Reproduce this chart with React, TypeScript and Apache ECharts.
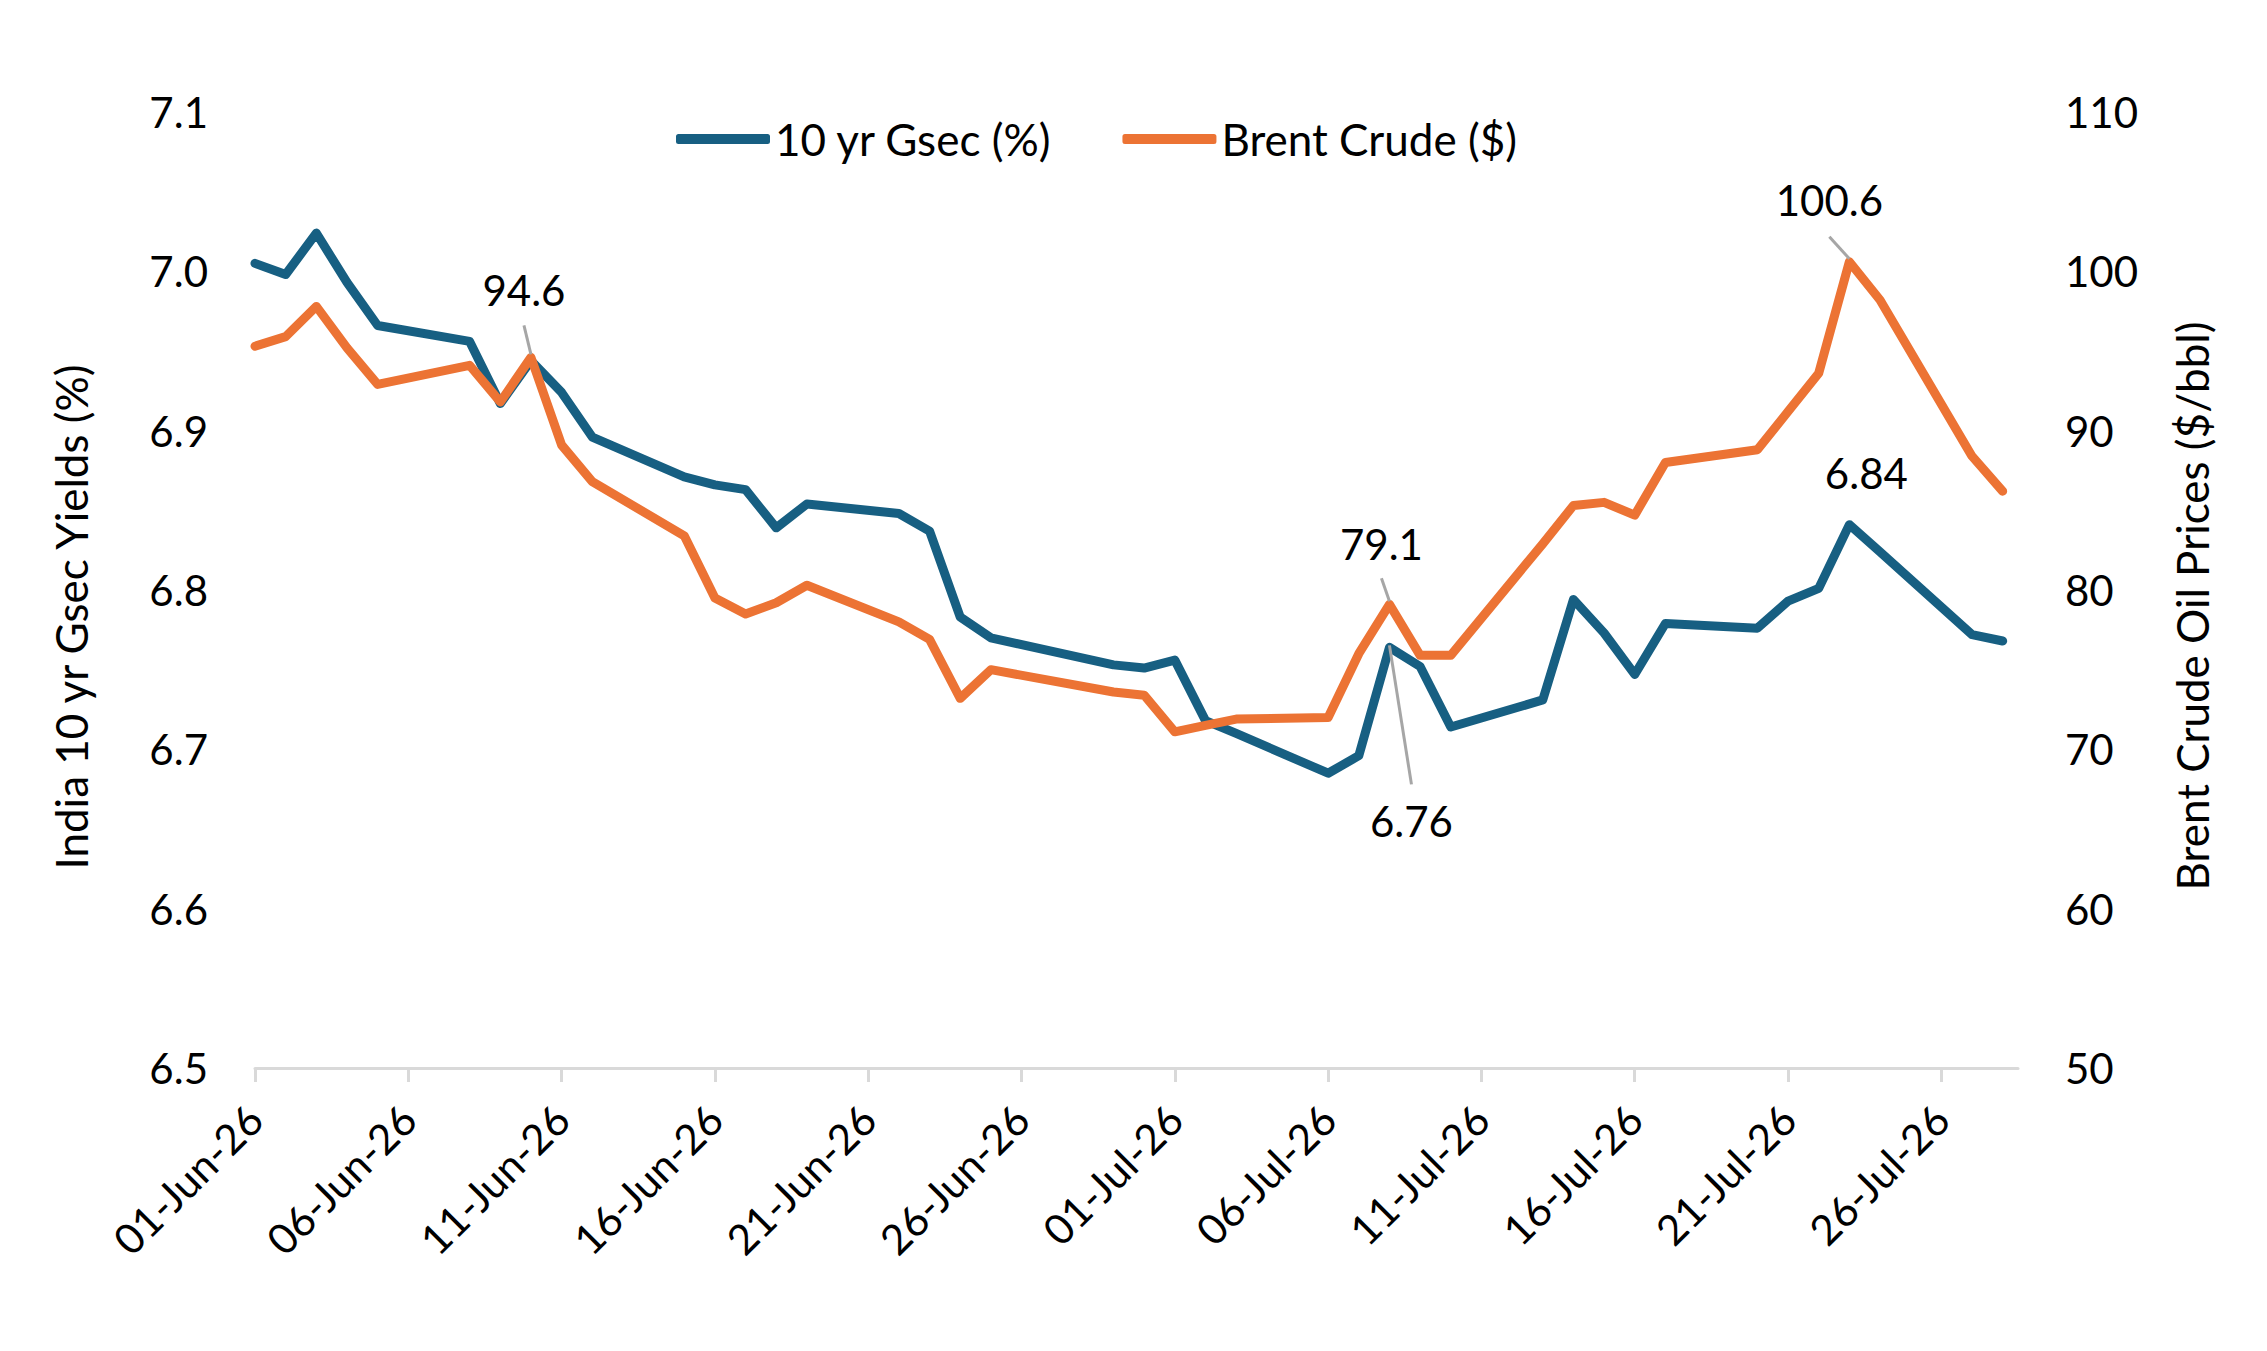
import React, { useEffect, useRef } from "react";
import * as echarts from "echarts";

// ---- data ----
const dates = [
  "2026-06-01", "2026-06-02", "2026-06-03", "2026-06-04", "2026-06-05",
  "2026-06-08", "2026-06-09", "2026-06-10", "2026-06-11", "2026-06-12",
  "2026-06-15", "2026-06-16", "2026-06-17", "2026-06-18", "2026-06-19",
  "2026-06-22", "2026-06-23", "2026-06-24", "2026-06-25",
  "2026-06-29", "2026-06-30", "2026-07-01", "2026-07-02", "2026-07-03",
  "2026-07-06", "2026-07-07", "2026-07-08", "2026-07-09", "2026-07-10",
  "2026-07-13", "2026-07-14", "2026-07-15", "2026-07-16", "2026-07-17",
  "2026-07-20", "2026-07-21", "2026-07-22", "2026-07-23", "2026-07-24",
  "2026-07-27", "2026-07-28",
];

const gsecYield = [
  7.005, 6.998, 7.024, 6.993, 6.966,
  6.956, 6.917, 6.944, 6.924, 6.896,
  6.871, 6.866, 6.863, 6.839, 6.854,
  6.848, 6.837, 6.783, 6.770,
  6.753, 6.751, 6.756, 6.718, 6.710,
  6.685, 6.696, 6.764, 6.752, 6.714,
  6.731, 6.794, 6.773, 6.747, 6.779,
  6.776, 6.793, 6.801, 6.841, 6.824,
  6.772, 6.768,
];

const brentCrude = [
  95.3, 95.9, 97.8, 95.2, 92.9,
  94.1, 91.8, 94.6, 89.1, 86.8,
  83.4, 79.5, 78.5, 79.2, 80.3,
  78.0, 76.9, 73.2, 75.0,
  73.6, 73.4, 71.1, 71.5, 71.9,
  72.0, 76.0, 79.1, 75.9, 75.9,
  82.9, 85.3, 85.5, 84.7, 88.0,
  88.8, 91.2, 93.6, 100.6, 98.2,
  88.4, 86.2,
];

const xTickDays = [0, 5, 10, 15, 20, 25, 30, 35, 40, 45, 50, 55];
const seriesNames = ["10 yr Gsec (%)", "Brent Crude ($)"];

// annotations: which series, which date, label text
const annotations = [
  { series: 1, date: "2026-06-10", text: "94.6", dx: -7, dy: -67, line: [0, -3, -7, -32] },
  { series: 1, date: "2026-07-08", text: "79.1", dx: -8, dy: -60, line: [0, -3, -8, -26] },
  { series: 0, date: "2026-07-08", text: "6.76", dx: 22, dy: 174, line: [0, -2, 22, 137] },
  { series: 1, date: "2026-07-23", text: "100.6", dx: -20, dy: -62, line: [0, -3, -20, -25] },
  { series: 0, date: "2026-07-23", text: "6.84", dx: 17, dy: -52, line: null as number[] | null },
];

// ---- helpers ----
const START = Date.UTC(2026, 5, 1);
const DAY = 86400000;
const MONTHS = ["Jan", "Feb", "Mar", "Apr", "May", "Jun", "Jul", "Aug", "Sep", "Oct", "Nov", "Dec"];
function dayIndex(d: string): number {
  const [y, m, dd] = d.split("-").map(Number);
  return Math.round((Date.UTC(y, m - 1, dd) - START) / DAY);
}
function fmtDay(idx: number): string {
  const dt = new Date(START + idx * DAY);
  const dd = String(dt.getUTCDate()).padStart(2, "0");
  return dd + "-" + MONTHS[dt.getUTCMonth()] + "-" + String(dt.getUTCFullYear()).slice(2);
}

const FONT = "Lato";
const BLUE = "#175F82";
const ORANGE = "#EC7334";
const AXIS_GREY = "#D9D9D9";

export default function App() {
  const ref = useRef<HTMLDivElement>(null);

  useEffect(() => {
    if (!ref.current) return;
    const chart = echarts.init(ref.current, undefined, { renderer: "svg" });

    const gsecData = dates.map((d, i) => [dayIndex(d), gsecYield[i]]);
    const brentData = dates.map((d, i) => [dayIndex(d), brentCrude[i]]);

    chart.setOption({
      animation: false,
      backgroundColor: "#ffffff",
      textStyle: { fontFamily: FONT },
      grid: { left: 255, right: 249, top: 112, bottom: 283, containLabel: false },
      legend: {
        left: 671,
        top: 112,
        itemWidth: 94,
        itemHeight: 10,
        itemGap: 70,
        icon: "roundRect",
        textStyle: { fontFamily: FONT, fontSize: 44, color: "#000" },
        data: seriesNames,
      },
      xAxis: {
        type: "value",
        min: 0,
        max: 57.5,
        interval: 5,
        splitLine: { show: false },
        axisLine: { show: true, lineStyle: { color: AXIS_GREY, width: 3 } },
        axisTick: {
          show: true,
          length: 14,
          lineStyle: { color: AXIS_GREY, width: 3 },
          customValues: xTickDays,
        },
        axisLabel: {
          rotate: 45,
          margin: 44,
          fontFamily: FONT,
          fontSize: 42,
          color: "#000",
          customValues: xTickDays,
          formatter: (v: number) => fmtDay(v),
        },
      },
      yAxis: [
        {
          type: "value",
          min: 6.5,
          max: 7.1,
          interval: 0.1,
          position: "left",
          name: "India 10 yr Gsec Yields (%)",
          nameLocation: "middle",
          nameRotate: 90,
          nameGap: 162,
          nameTextStyle: { fontFamily: FONT, fontSize: 44, color: "#000", padding: [0, 54, 0, 0] },
          splitLine: { show: false },
          axisLine: { show: false },
          axisTick: { show: false },
          axisLabel: {
            margin: 47,
            fontFamily: FONT,
            fontSize: 42,
            color: "#000",
            formatter: (v: number) => v.toFixed(1),
          },
        },
        {
          type: "value",
          min: 50,
          max: 110,
          interval: 10,
          position: "right",
          name: "Brent Crude Oil Prices ($/bbl)",
          nameLocation: "middle",
          nameRotate: 90,
          nameGap: 152,
          nameTextStyle: { fontFamily: FONT, fontSize: 44, color: "#000", padding: [0, 32, 0, 0] },
          splitLine: { show: false },
          axisLine: { show: false },
          axisTick: { show: false },
          axisLabel: {
            margin: 47,
            fontFamily: FONT,
            fontSize: 42,
            color: "#000",
          },
        },
      ],
      series: [
        {
          name: seriesNames[0],
          type: "line",
          yAxisIndex: 0,
          data: gsecData,
          showSymbol: false,
          symbol: "none",
          color: BLUE,
          lineStyle: { color: BLUE, width: 9, cap: "round", join: "round" },
        },
        {
          name: seriesNames[1],
          type: "line",
          yAxisIndex: 1,
          data: brentData,
          showSymbol: false,
          symbol: "none",
          color: ORANGE,
          lineStyle: { color: ORANGE, width: 9, cap: "round", join: "round" },
        },
      ],
    });

    // annotations positioned through the chart's own scales
    const elements: any[] = [];
    annotations.forEach((a) => {
      const i = dates.indexOf(a.date);
      const val = a.series === 0 ? gsecYield[i] : brentCrude[i];
      const p = chart.convertToPixel({ xAxisIndex: 0, yAxisIndex: a.series }, [dayIndex(a.date), val]) as number[];
      if (!p) return;
      if (a.line) {
        elements.push({
          type: "line",
          shape: { x1: p[0] + a.line[0], y1: p[1] + a.line[1], x2: p[0] + a.line[2], y2: p[1] + a.line[3] },
          style: { stroke: "#A6A6A6", lineWidth: 3 },
          z: 10,
        });
      }
      elements.push({
        type: "text",
        x: p[0] + a.dx,
        y: p[1] + a.dy,
        style: {
          text: a.text,
          fontFamily: FONT,
          fontSize: 42,
          fill: "#000",
          align: "center",
          verticalAlign: "middle",
        },
        z: 10,
      });
    });
    chart.setOption({ graphic: elements });

    return () => chart.dispose();
  }, []);

  return (
    <div
      ref={ref}
      style={{ position: "fixed", left: 0, top: 0, width: 2267, height: 1351, background: "#fff" }}
    />
  );
}
